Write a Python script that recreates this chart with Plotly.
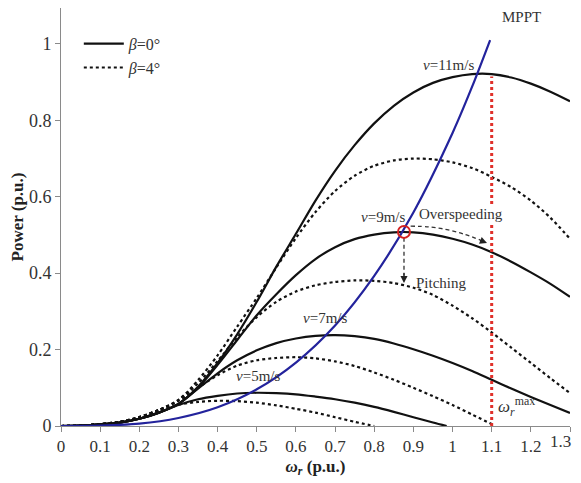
import plotly.graph_objects as go

# ---------------- data ----------------
X_FULL = [0, 0.05, 0.1, 0.15, 0.2, 0.25, 0.3, 0.35, 0.4, 0.45, 0.5, 0.55, 0.6,
          0.65, 0.7, 0.75, 0.8, 0.85, 0.9, 0.95, 1.0, 1.05, 1.1, 1.15, 1.2, 1.25, 1.3]

v11_b0 = [0, 0.001, 0.004, 0.009, 0.019, 0.035, 0.058, 0.103, 0.165, 0.24, 0.325, 0.417, 0.503,
          0.59, 0.668, 0.735, 0.792, 0.838, 0.873, 0.898, 0.913, 0.921, 0.921, 0.912, 0.896, 0.875, 0.85]
v11_b4 = [0, 0.001, 0.005, 0.011, 0.023, 0.042, 0.068, 0.12, 0.185, 0.26, 0.335, 0.415, 0.492,
          0.56, 0.615, 0.655, 0.681, 0.695, 0.70, 0.698, 0.69, 0.675, 0.652, 0.625, 0.59, 0.545, 0.49]
v9_b0 = [0, 0.001, 0.004, 0.009, 0.019, 0.035, 0.058, 0.1, 0.16, 0.225, 0.29, 0.345, 0.395,
         0.437, 0.468, 0.489, 0.501, 0.507, 0.507, 0.501, 0.49, 0.475, 0.455, 0.43, 0.402, 0.372, 0.338]
v9_b4 = [0, 0.001, 0.005, 0.011, 0.023, 0.042, 0.068, 0.112, 0.17, 0.232, 0.285, 0.325, 0.352,
         0.368, 0.377, 0.381, 0.38, 0.374, 0.362, 0.343, 0.315, 0.282, 0.245, 0.205, 0.165, 0.125, 0.086]
v7_b0 = [0, 0.001, 0.004, 0.009, 0.019, 0.035, 0.058, 0.098, 0.138, 0.172, 0.198, 0.217, 0.229,
         0.236, 0.238, 0.235, 0.228, 0.216, 0.201, 0.184, 0.165, 0.144, 0.121, 0.098, 0.076, 0.055, 0.034]
v7_b4_x = X_FULL[:23]
v7_b4 = [0, 0.001, 0.005, 0.011, 0.023, 0.042, 0.066, 0.1, 0.133, 0.158, 0.172, 0.178, 0.18,
         0.177, 0.169, 0.157, 0.14, 0.121, 0.1, 0.078, 0.055, 0.03, 0.005]
v5_b0_x = X_FULL[:20] + [0.985]
v5_b0 = [0, 0.001, 0.004, 0.009, 0.019, 0.035, 0.055, 0.07, 0.079, 0.085, 0.087, 0.086, 0.083,
         0.077, 0.07, 0.061, 0.05, 0.037, 0.023, 0.009, 0.0]
v5_b4_x = X_FULL[:17]
v5_b4 = [0, 0.001, 0.005, 0.011, 0.023, 0.042, 0.056, 0.063, 0.066, 0.065, 0.061, 0.054, 0.045,
         0.035, 0.023, 0.011, 0.0]

mppt_x = [0, 0.1, 0.2, 0.3, 0.4, 0.5, 0.6, 0.7, 0.8, 0.9, 1.0, 1.05, 1.096]
mppt_y = [0, 0.001, 0.006, 0.021, 0.049, 0.096, 0.166, 0.263, 0.393, 0.559, 0.767, 0.888, 1.01]

omega_max = 1.1
omega_max_top = 0.915
op_point = (0.876, 0.508)
over_x = [0.893, 0.94, 0.986, 1.03, 1.07]
over_y = [0.523, 0.521, 0.514, 0.502, 0.487]
pitch_end = 0.374

x_ticks = [0, 0.1, 0.2, 0.3, 0.4, 0.5, 0.6, 0.7, 0.8, 0.9, 1.0, 1.1, 1.2, 1.3]
x_tick_labels = ["0", "0.1", "0.2", "0.3", "0.4", "0.5", "0.6", "0.7", "0.8", "0.9", "1", "1.1", "1.2", "1.3"]
y_ticks = [0, 0.2, 0.4, 0.6, 0.8, 1.0]
y_tick_labels = ["0", "0.2", "0.4", "0.6", "0.8", "1"]

# ---------------- figure ----------------
FONT = "Liberation Serif"
BLACK = "#111111"
TXT = "#333333"
fig = go.Figure()

solid = dict(color=BLACK, width=2.2, shape="spline", smoothing=0.8)
dotted = dict(color=BLACK, width=2.2, dash="dot", shape="spline", smoothing=0.8)

curves = [
    (X_FULL, v11_b0, solid, "<i>β</i>=0°", True),
    (X_FULL, v11_b4, dotted, "<i>β</i>=4°", True),
    (X_FULL, v9_b0, solid, None, False),
    (X_FULL, v9_b4, dotted, None, False),
    (X_FULL, v7_b0, solid, None, False),
    (v7_b4_x, v7_b4, dotted, None, False),
    (v5_b0_x, v5_b0, solid, None, False),
    (v5_b4_x, v5_b4, dotted, None, False),
]
for xs, ys, ln, name, show in curves:
    fig.add_trace(go.Scatter(x=xs, y=ys, mode="lines", line=ln, name=name or "",
                             showlegend=show, hoverinfo="skip"))

# MPPT curve
fig.add_trace(go.Scatter(x=mppt_x, y=mppt_y, mode="lines",
                         line=dict(color="#23239c", width=2.2, shape="spline", smoothing=0.8),
                         showlegend=False, hoverinfo="skip"))

# omega max line
fig.add_trace(go.Scatter(x=[omega_max, omega_max], y=[0, omega_max_top], mode="lines",
                         line=dict(color="#e0302a", width=3, dash="dot"),
                         showlegend=False, hoverinfo="skip"))

# overspeeding dashed path
fig.add_trace(go.Scatter(x=over_x, y=over_y, mode="lines",
                         line=dict(color="#333333", width=1.3, dash="4px,3px", shape="spline"),
                         showlegend=False, hoverinfo="skip"))
# pitching dashed path
fig.add_trace(go.Scatter(x=[op_point[0], op_point[0]], y=[op_point[1] - 0.015, pitch_end + 0.02],
                         mode="lines", line=dict(color="#333333", width=1.3, dash="4px,3px"),
                         showlegend=False, hoverinfo="skip"))

# operating point circle
fig.add_trace(go.Scatter(x=[op_point[0]], y=[op_point[1]], mode="markers",
                         marker=dict(symbol="circle-open", size=12, color="#d42020",
                                     line=dict(width=2, color="#d42020")),
                         showlegend=False, hoverinfo="skip"))

ann = []
# arrowheads
ann.append(dict(x=1.088, y=0.479, ax=1.066, ay=0.488, xref="x", yref="y", axref="x", ayref="y",
                text="", showarrow=True, arrowhead=2, arrowsize=1.1, arrowwidth=1.3, arrowcolor="#222"))
ann.append(dict(x=op_point[0], y=pitch_end, ax=op_point[0], ay=pitch_end + 0.03, xref="x", yref="y",
                axref="x", ayref="y", text="", showarrow=True, arrowhead=2, arrowsize=1.1,
                arrowwidth=1.3, arrowcolor="#222"))

def label(x, y, text, size=15, xanchor="center", bg=None):
    d = dict(x=x, y=y, xref="x", yref="y", text=text, showarrow=False, xanchor=xanchor,
             yanchor="middle", font=dict(family=FONT, size=size, color=TXT))
    if bg:
        d["bgcolor"] = bg
        d["borderpad"] = 0
    ann.append(d)

label(0.989, 0.944, "<i>v</i>=11m/s")
label(0.822, 0.547, "<i>v</i>=9m/s")
label(0.674, 0.283, "<i>v</i>=7m/s")
label(0.503, 0.131, "<i>v</i>=5m/s")
label(0.913, 0.556, "Overspeeding", xanchor="left", bg="white")
label(0.902, 0.374, "Pitching", xanchor="left")
label(1.175, 1.07, "MPPT")
label(1.11, 0.05, "<i>ω<sub>r</sub></i><sup>max</sup>", size=17, xanchor="left")

# last x tick label drawn right-aligned so it is not clipped by the window edge
shown_ticktext = x_tick_labels[:-1] + [""]
ann.append(dict(x=x_ticks[-1], y=-0.037, xref="x", yref="paper", text=x_tick_labels[-1],
                showarrow=False, xanchor="right", yanchor="middle", xshift=3,
                font=dict(family=FONT, size=17, color=TXT)))

# the page body adds an 8px offset; the figure size/margins compensate for it
fig.update_layout(
    width=573, height=475,
    margin=dict(l=53, r=11, t=0, b=57),
    paper_bgcolor="white", plot_bgcolor="white",
    font=dict(family=FONT, size=18, color=TXT),
    annotations=ann,
    legend=dict(x=0.035, y=0.955, xanchor="left", yanchor="top", bgcolor="rgba(0,0,0,0)",
                font=dict(family=FONT, size=16, color=TXT), tracegroupgap=0, itemwidth=40),
    xaxis=dict(range=[0, 1.3], tickmode="array", tickvals=x_ticks, ticktext=shown_ticktext,
               showgrid=False, zeroline=False, showline=True, linecolor="#8a8a8a", linewidth=1,
               ticks="outside", ticklen=5, tickcolor="#8a8a8a", automargin=False,
               tickfont=dict(family=FONT, size=17, color=TXT),
               title=dict(text="<b><i>ω</i><sub><i>r</i></sub> (p.u.)</b>", standoff=4,
                          font=dict(family=FONT, size=17, color="#222"))),
    yaxis=dict(range=[0, 1.094], tickmode="array", tickvals=y_ticks, ticktext=y_tick_labels,
               showgrid=False, zeroline=False, showline=True, linecolor="#8a8a8a", linewidth=1,
               ticks="outside", ticklen=5, tickcolor="#8a8a8a", automargin=False,
               tickfont=dict(family=FONT, size=18, color=TXT),
               title=dict(text="<b>Power (p.u.)</b>", standoff=6,
                          font=dict(family=FONT, size=17, color="#222"))),
)

fig.write_html("out.html")
